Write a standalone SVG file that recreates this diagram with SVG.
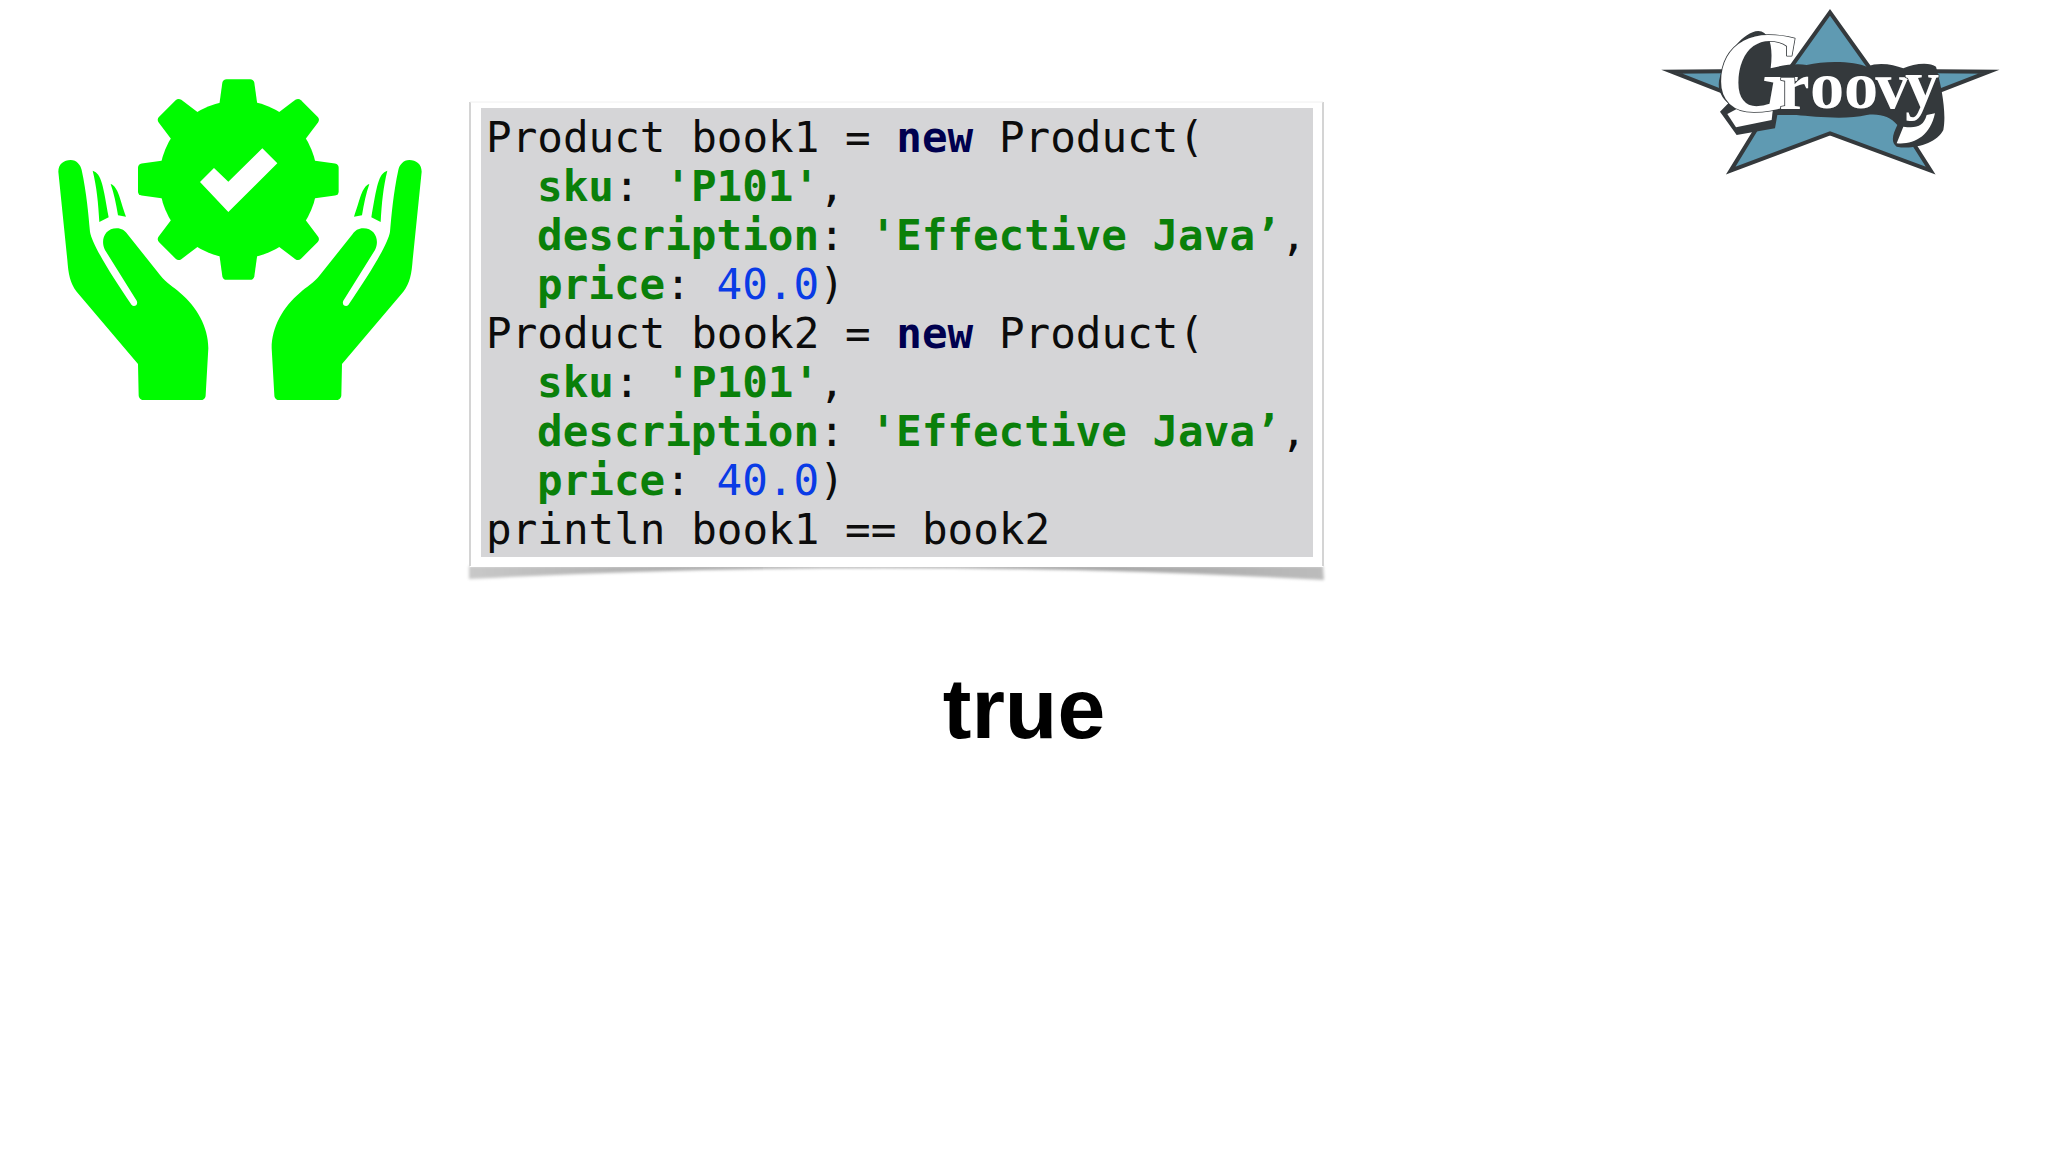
<svg xmlns="http://www.w3.org/2000/svg" width="2048" height="1152" viewBox="0 0 2048 1152">
<style>
.code{font-family:"DejaVu Sans Mono","Liberation Mono",monospace;font-size:42.6px;fill:#0c0c0c;white-space:pre}
.g{fill:#0a800a;font-weight:700}
.k{fill:#00004f;font-weight:700}
.n{fill:#0a3be6}
.icon{fill:#00fb00}
.logo{stroke:#34393c;stroke-linejoin:round;fill:#fff;paint-order:stroke}
</style>
<defs>
<path id="tooth" d="M-57,-225L-48,-290Q-46,-301-35,-301L35,-301Q46,-301 48,-290L57,-225Z"/>
<path id="hand" d="M55,335C55,312 72,300 92,300C110,300 122,315 125,330C140,400 145,460 150,515C155,550 210,640 275,735C282,743 296,735 290,722L195,570C180,540 195,505 230,505C245,505 255,512 262,522L360,645C380,670 400,680 420,698C470,740 505,800 505,865L497,1005C497,1015 490,1020 485,1020L310,1020C300,1020 296,1012 296,1005L294,912L110,695C90,670 85,640 82,600ZM158,332C185,340 190,380 206,472L178,486C175,430 170,380 158,332ZM212,372C235,380 240,420 258,470L234,466C228,430 222,400 212,372Z"/>
<linearGradient id="sh" x1="0" x2="1" y1="0" y2="0"><stop offset="0" stop-color="#c8c8c8"/><stop offset=".5" stop-color="#8d8d8d"/><stop offset="1" stop-color="#bcbcbc"/></linearGradient>
<filter id="soft" x="-5%" y="-50%" width="110%" height="200%"><feGaussianBlur stdDeviation="1.5"/></filter>
</defs>
<rect width="2048" height="1152" fill="#fff"/>
<g id="care-icon" class="icon" transform="translate(40,60) scale(.33333)">
<use href="#hand"/>
<use href="#hand" transform="translate(1200,0) scale(-1,1)"/>
<g transform="translate(595,358.500)">
<circle r="237"/>
<use href="#tooth"/>
<use href="#tooth" transform="rotate(45)"/>
<use href="#tooth" transform="rotate(90)"/>
<use href="#tooth" transform="rotate(135)"/>
<use href="#tooth" transform="rotate(180)"/>
<use href="#tooth" transform="rotate(225)"/>
<use href="#tooth" transform="rotate(270)"/>
<use href="#tooth" transform="rotate(315)"/>
</g>
<path d="M480,366L522,324L565,365L667,265L712,310L565,456Z" fill="#fff"/>
</g>
<g id="code-card">
<path d="M469,566L1323,566L1324,580Q896,556 469,579Z" fill="url(#sh)" filter="url(#soft)"/>
<rect x="470" y="102" width="853" height="465" fill="#fff"/>
<path d="M470,102V566M1323,102V566" stroke="#d4d4d4" stroke-width="2" fill="none"/>
<path d="M470,102H1323" stroke="#f0f0f0" stroke-width="1" fill="none"/>
<rect x="481" y="108" width="832" height="449" fill="#d5d5d7"/>
<text class="code" x="486" y="151.700">Product book1 = <tspan class="k">new</tspan> Product(</text>
<text class="code" x="537" y="200.700"><tspan class="g">sku</tspan>: <tspan class="g">'P101'</tspan>,</text>
<text class="code" x="537" y="249.700"><tspan class="g">description</tspan>: <tspan class="g">'Effective Java’</tspan>,</text>
<text class="code" x="537" y="298.700"><tspan class="g">price</tspan>: <tspan class="n">40.0</tspan>)</text>
<text class="code" x="486" y="347.700">Product book2 = <tspan class="k">new</tspan> Product(</text>
<text class="code" x="537" y="396.700"><tspan class="g">sku</tspan>: <tspan class="g">'P101'</tspan>,</text>
<text class="code" x="537" y="445.700"><tspan class="g">description</tspan>: <tspan class="g">'Effective Java’</tspan>,</text>
<text class="code" x="537" y="494.700"><tspan class="g">price</tspan>: <tspan class="n">40.0</tspan>)</text>
<text class="code" x="486" y="543.700">println book1 == book2</text>
</g>
<g id="result">
<text x="1024" y="738" text-anchor="middle" font-family="'Liberation Sans',Arial,sans-serif" font-weight="700" font-size="86" fill="#000">true</text>
</g>
<g id="groovy-logo" transform="translate(1640,0) scale(.33333)">
<path d="M570,37L695,212L1047,215L755,328L872,512L570,400L272,512L385,328L95,215L445,212Z" fill="#5f9ab2" stroke="#34393c" stroke-width="12" stroke-linejoin="miter" stroke-miterlimit="20"/>
<path d="M240,230C260,160 310,95 355,93C390,95 400,140 392,205C430,195 470,190 500,195C560,180 650,185 680,200C720,185 760,195 790,205C820,190 870,185 888,200C905,260 920,340 910,390C890,430 820,450 770,440C750,425 760,400 772,375C750,350 720,340 680,345C620,360 520,350 470,345C440,345 430,345 412,345L405,385L290,405L240,335L265,310C240,290 230,260 240,230Z" fill="#34393c"/>
<path d="M262,342L300,322L400,315L395,360L288,382Z" fill="#fff"/>
<path d="M770,430C820,435 870,410 885,340L860,345C850,380 830,385 790,380Z" fill="#fff"/>
<text class="logo" font-family="'Liberation Serif',serif" font-weight="700" stroke-width="5"><tspan x="232" y="332" font-size="340" font-style="italic">G</tspan><tspan x="418" y="328" font-size="205">r</tspan><tspan x="510" y="325" font-size="205">o</tspan><tspan x="612" y="325" font-size="205">o</tspan><tspan x="706" y="325" font-size="205">v</tspan><tspan x="795" y="322" font-size="205">y</tspan></text>
</g>
</svg>
